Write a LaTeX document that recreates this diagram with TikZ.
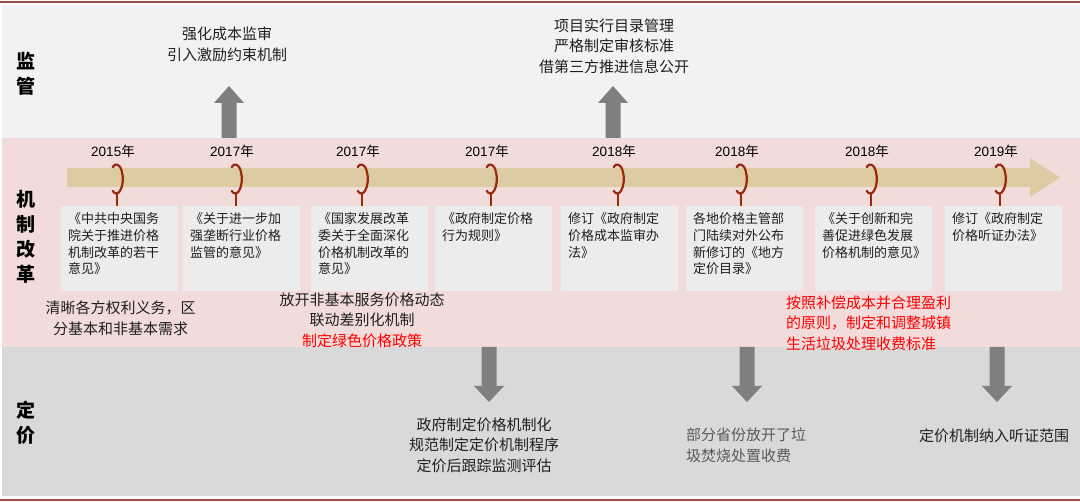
\documentclass[tikz,border=0pt]{standalone}
\usepackage{fontspec}
\setmainfont{Liberation Sans}
\newfontfamily\cjk{Noto Sans CJK SC}
\usetikzlibrary{calc}
\definecolor{topbg}{HTML}{F2F2F2}
\definecolor{pinkbg}{HTML}{F2DCDB}
\definecolor{botbg}{HTML}{D9D9D9}
\definecolor{boxgray}{HTML}{ECECEC}
\definecolor{tan}{HTML}{DDCBA4}
\definecolor{ringred}{HTML}{9A2A0A}
\definecolor{arrgray}{HTML}{7F7F7F}
\definecolor{rule}{HTML}{A04B4B}
\definecolor{txt}{HTML}{1F1F1F}
\definecolor{dimtxt}{HTML}{595959}
\definecolor{redtxt}{HTML}{FF0000}
\begin{document}
\begin{tikzpicture}[x=1pt,y=-1pt,
  secl/.style={font=\cjk\bfseries\fontsize{19}{25}\selectfont, align=center, inner sep=0, text=black},
  note/.style={font=\cjk\fontsize{15}{20.5}\selectfont, align=center, inner sep=0, text=txt},
  docbox/.style={fill=boxgray, draw=none, minimum width=117pt, minimum height=85pt, inner sep=0, anchor=north west},
  doctext/.style={font=\cjk\fontsize{13}{16.7}\selectfont, align=left, inner sep=0, anchor=north west, text=txt},
  year/.style={font=\fontsize{13.5}{15}\selectfont, inner sep=0, text=black},
  ring/.style={draw=ringred, line width=2.2pt, line cap=round},
  stem/.style={draw=ringred, line width=2.2pt},
  blockarrow/.style={fill=arrgray, draw=none}
]
\useasboundingbox (0,0) rectangle (1080,502);
% rules
\draw[rule, line width=2pt] (0,2) -- (1080,2);
\draw[rule, line width=2pt] (0,500) -- (1080,500);
% bands
\fill[topbg] (2,5) rectangle (1080,138);
\fill[pinkbg] (2,138) rectangle (1080,347);
\fill[botbg] (2,347) rectangle (1080,496);
% section labels
\node[secl] (s1) at (26,74) {监\\管};
\node[secl] (s2) at (26,237) {机\\制\\改\\革};
\node[secl] (s3) at (26,423) {定\\价};
% timeline arrow
\fill[tan] (67,168) -- (1030,168) -- (1030,158) -- (1060,177.5) -- (1030,197) -- (1030,187) -- (67,187) -- cycle;
% boxes, rings, years
\foreach \i/\bx/\rx/\yr in {1/61/117/2015,2/183/236/2017,3/311/362/2017,4/435/491/2017,5/561/618/2018,6/686/741/2018,7/815/871/2018,8/945/1000/2019}{
  \node[docbox] (box\i) at (\bx,206) {};
  \coordinate (ring\i) at (\rx-1,179);
  \draw[ring] ($(ring\i)+(-3.4,-11.9)$) arc[start angle=125, end angle=-125, x radius=6.5pt, y radius=14.5pt];
  \coordinate (stemtop\i) at (\rx,193);
  \draw[stem] (stemtop\i) -- (stemtop\i |- box\i.north);
  \node[year] (yr\i) at (\rx-4,151) {\yr{\cjk 年}};
}
\node[doctext] (t1) at ($(box1.north west)+(7,6.5)$) {《中共中央国务\\院关于推进价格\\机制改革的若干\\意见》};
\node[doctext] (t2) at ($(box2.north west)+(7,6.5)$) {《关于进一步加\\强垄断行业价格\\监管的意见》};
\node[doctext] (t3) at ($(box3.north west)+(7,6.5)$) {《国家发展改革\\委关于全面深化\\价格机制改革的\\意见》};
\node[doctext] (t4) at ($(box4.north west)+(7,6.5)$) {《政府制定价格\\行为规则》};
\node[doctext] (t5) at ($(box5.north west)+(7,6.5)$) {修订《政府制定\\价格成本监审办\\法》};
\node[doctext] (t6) at ($(box6.north west)+(7,6.5)$) {各地价格主管部\\门陆续对外公布\\新修订的《地方\\定价目录》};
\node[doctext] (t7) at ($(box7.north west)+(7,6.5)$) {《关于创新和完\\善促进绿色发展\\价格机制的意见》};
\node[doctext] (t8) at ($(box8.north west)+(7,6.5)$) {修订《政府制定\\价格听证办法》};
% top notes
\node[note] (n1) at (227,44.5) {强化成本监审\\引入激励约束机制};
\node[note] (n2) at (614,46) {项目实行目录管理\\严格制定审核标准\\借第三方推进信息公开};
% up arrows
\fill[blockarrow] (221.5,138) -- (221.5,103) -- (214,103) -- (229,86) -- (244,103) -- (236.5,103) -- (236.5,138) -- cycle;
\fill[blockarrow] (605.5,138) -- (605.5,103) -- (598,103) -- (613,86) -- (628,103) -- (620.5,103) -- (620.5,138) -- cycle;
% middle notes
\node[note] (m1) at (120.5,318.5) {清晰各方权利义务，区\\分基本和非基本需求};
\node[note] (m2) at (362,320) {放开非基本服务价格动态\\联动差别化机制\\\textcolor{redtxt}{制定绿色价格政策}};
\node[note, align=left, anchor=west, text=redtxt] (m3) at (786,323) {按照补偿成本并合理盈利\\的原则，制定和调整城镇\\生活垃圾处理收费标准};
% down arrows
\foreach \cx in {489,747,997}{
  \fill[blockarrow] (\cx-7.5,347) -- (\cx-7.5,386) -- (\cx-15,386) -- (\cx,402) -- (\cx+15,386) -- (\cx+7.5,386) -- (\cx+7.5,347) -- cycle;
}
% bottom notes
\node[note] (b1) at (484,445) {政府制定价格机制化\\规范制定定价机制程序\\定价后跟踪监测评估};
\node[note, align=left, anchor=west, text=dimtxt] (b2) at (686,445.5) {部分省份放开了垃\\圾焚烧处置收费};
\node[note] (b3) at (994,436) {定价机制纳入听证范围};
\end{tikzpicture}
\end{document}
